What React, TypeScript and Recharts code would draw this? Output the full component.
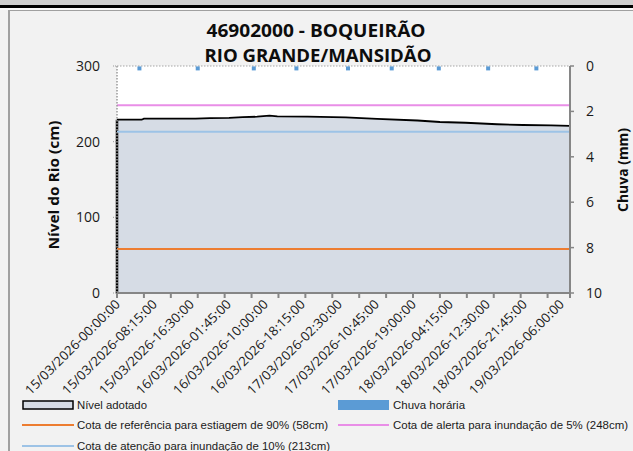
import React from "react";
import {
  ComposedChart,
  Area,
  Scatter,
  XAxis,
  YAxis,
  CartesianGrid,
  ReferenceLine,
} from "recharts";

// ---- data ----
const TITLE_LINE_1 = "46902000 - BOQUEIRÃO";
const TITLE_LINE_2 = "RIO GRANDE/MANSIDÃO";

// index of 15-minute record (category position) and adopted level (cm)
const levelIndex = [0, 22, 24, 50, 70, 83, 100, 112, 125, 136, 143, 170, 204, 232, 268, 288, 311, 339, 362, 387, 404];
const levelValues = [229, 229, 230.5, 230.5, 230.5, 231, 231.5, 232.5, 233, 234.5, 233.5, 233, 232, 230, 228, 226, 225, 223, 222, 221.5, 221];

// hourly rain (mm) at the records where it was reported
const rainIndex = [20, 72, 122, 160, 206, 245, 287, 331, 374];
const rainValues = [0.15, 0.15, 0.15, 0.15, 0.15, 0.15, 0.15, 0.15, 0.15];

const xLabelPositions = [0, 33, 66, 99, 132, 165, 198, 231, 264, 297, 330, 363, 396];
const xLabels = [
  "15/03/2026-00:00:00",
  "15/03/2026-08:15:00",
  "15/03/2026-16:30:00",
  "16/03/2026-01:45:00",
  "16/03/2026-10:00:00",
  "16/03/2026-18:15:00",
  "17/03/2026-02:30:00",
  "17/03/2026-10:45:00",
  "17/03/2026-19:00:00",
  "18/03/2026-04:15:00",
  "18/03/2026-12:30:00",
  "18/03/2026-21:45:00",
  "19/03/2026-06:00:00",
];
const xMarkPositions = [0, 24, 48, 72, 96, 120, 144, 168, 192, 216, 240, 264, 288, 312, 336, 360, 384, 404];
const X_MAX = 404;

const levelTicks = [0, 100, 200, 300];
const rainTicks = [0, 2, 4, 6, 8, 10];

const COTA_ESTIAGEM = 58;
const COTA_ATENCAO = 213;
const COTA_ALERTA = 248;

const legendLabels = {
  nivel: "Nível adotado",
  chuva: "Chuva horária",
  estiagem: "Cota de referência para estiagem de 90% (58cm)",
  alerta: "Cota de alerta para inundação de 5% (248cm)",
  atencao: "Cota de atenção para inundação de 10% (213cm)",
};

// build tables
const levelData = levelIndex.map((i, k) => ({ idx: i, nivel: levelValues[k] }));
const rainData = rainIndex.map((i, k) => ({ idx: i, chuva: rainValues[k] }));

const allXTicks = Array.from(new Set([...xLabelPositions, ...xMarkPositions])).sort((a, b) => a - b);

const FONT = "'Open Sans', 'Liberation Sans', sans-serif";
const LEGEND_FONT = "'Liberation Sans', Arial, sans-serif";

const XTick = (props: any) => {
  const { x, y, payload } = props;
  const v = payload.value;
  const li = xLabelPositions.indexOf(v);
  const isMark = xMarkPositions.includes(v);
  const ax = x + 4;
  const ay = y + 12;
  return (
    <g>
      {isMark && <line x1={x} y1={y} x2={x} y2={y + 5} stroke="#868686" strokeWidth={2} />}
      {li >= 0 && (
        <text
          x={ax}
          y={ay}
          transform={`rotate(-45, ${ax}, ${ay})`}
          textAnchor="end"
          fontSize={13}
          fontFamily={FONT}
          fill="#1a1a1a"
          textLength={128}
          lengthAdjust="spacingAndGlyphs"
        >
          {xLabels[li]}
        </text>
      )}
    </g>
  );
};

// hourly rain bar: hangs from the top (0 mm) down to its value on the reversed axis
const RainBar = (props: any) => {
  const { cx, cy } = props;
  if (cx == null || cy == null) return null;
  const h = 4;
  return <rect x={cx - 2} y={cy - h + 1} width={4} height={h} fill="#5b9bd5" />;
};

export default function App() {
  return (
    <div
      style={{
        position: "absolute",
        left: 0,
        top: 0,
        width: 633,
        height: 451,
        background: "#f2f2f2",
        overflow: "hidden",
      }}
    >
      <div style={{ position: "absolute", left: 0, top: 0, width: 633, height: 5, background: "#cfcfcf" }} />
      <div style={{ position: "absolute", left: 0, top: 5, width: 633, height: 2.5, background: "#000" }} />
      <div style={{ position: "absolute", left: 0, top: 7.5, width: 633, height: 2, background: "#fafafa" }} />
      <div
        style={{
          position: "absolute",
          left: 8,
          top: 9.5,
          width: 700,
          height: 500,
          borderLeft: "2px solid #a0a0a0",
          borderTop: "1.5px solid #a0a0a0",
        }}
      />
      <div style={{ position: "absolute", left: 0, top: 0 }}>
        <ComposedChart
          width={633}
          height={451}
          margin={{ top: 66, right: 0, bottom: 0, left: 0 }}
        >
          <CartesianGrid horizontal={false} vertical={false} fill="#ffffff" />
          <XAxis
            dataKey="idx"
            type="number"
            domain={[0, X_MAX]}
            ticks={allXTicks}
            interval={0}
            tick={<XTick />}
            tickLine={false}
            tickSize={0}
            tickMargin={0}
            height={158}
            axisLine={{ stroke: "#868686", strokeWidth: 2 }}
          />
          <YAxis
            yAxisId="left"
            domain={[0, 300]}
            ticks={levelTicks}
            width={117}
            tickSize={4}
            tickMargin={13}
            tickLine={{ stroke: "#9a9a9a", strokeDasharray: "1 1" }}
            axisLine={{ stroke: "#9a9a9a", strokeWidth: 1.5, strokeDasharray: "1.5 1.5" }}
            tick={{ fontSize: 14, fontFamily: FONT, fill: "#1a1a1a" }}
          />
          <YAxis
            yAxisId="right"
            orientation="right"
            reversed
            domain={[0, 10]}
            ticks={rainTicks}
            width={63}
            tickSize={4}
            tickMargin={12}
            tickLine={{ stroke: "#868686", strokeWidth: 1.5 }}
            axisLine={{ stroke: "#868686", strokeWidth: 2 }}
            tick={{ fontSize: 14, fontFamily: FONT, fill: "#1a1a1a", textAnchor: "start" }}
          />
          <ReferenceLine
            yAxisId="left"
            y={300}
            stroke="#a6a6a6"
            strokeDasharray="1.5 1.5"
            strokeWidth={1.2}
          />
          <Area
            data={levelData}
            yAxisId="left"
            dataKey="nivel"
            type="linear"
            fill="#d6dce5"
            fillOpacity={1}
            stroke="#000"
            strokeWidth={1.8}
            isAnimationActive={false}
            dot={false}
            activeDot={false}
          />
          <ReferenceLine
            yAxisId="left"
            segment={[
              { x: levelIndex[0], y: 0 },
              { x: levelIndex[0], y: levelValues[0] },
            ]}
            stroke="#000"
            strokeWidth={2.5}
          />
          <ReferenceLine yAxisId="left" y={COTA_ESTIAGEM} stroke="#ed7d31" strokeWidth={2} />
          <ReferenceLine yAxisId="left" y={COTA_ATENCAO} stroke="#9dc3e6" strokeWidth={2} />
          <ReferenceLine yAxisId="left" y={COTA_ALERTA} stroke="#e98ee7" strokeWidth={2} />
          <Scatter
            data={rainData}
            yAxisId="right"
            dataKey="chuva"
            fill="#5b9bd5"
            shape={<RainBar />}
            isAnimationActive={false}
          />
        </ComposedChart>
      </div>
      <svg
        width={633}
        height={451}
        style={{ position: "absolute", left: 0, top: 0, pointerEvents: "none" }}
      >
        <text
          x={316}
          y={37}
          textAnchor="middle"
          fontFamily={FONT}
          fontWeight={700}
          fontSize={18}
          fill="#0d0d0d"
          textLength={219}
          lengthAdjust="spacingAndGlyphs"
        >
          {TITLE_LINE_1}
        </text>
        <text
          x={318}
          y={62}
          textAnchor="middle"
          fontFamily={FONT}
          fontWeight={700}
          fontSize={18}
          fill="#0d0d0d"
          textLength={227}
          lengthAdjust="spacingAndGlyphs"
        >
          {TITLE_LINE_2}
        </text>
        <text
          x={59}
          y={185}
          transform="rotate(-90, 59, 185)"
          textAnchor="middle"
          fontFamily={FONT}
          fontWeight={700}
          fontSize={14}
          fill="#0d0d0d"
          textLength={129}
          lengthAdjust="spacingAndGlyphs"
        >
          Nível do Rio  (cm)
        </text>
        <text
          x={628}
          y={170}
          transform="rotate(-90, 628, 170)"
          textAnchor="middle"
          fontFamily={FONT}
          fontWeight={700}
          fontSize={14}
          fill="#0d0d0d"
          textLength={84}
          lengthAdjust="spacingAndGlyphs"
        >
          Chuva (mm)
        </text>

        {/* legend */}
        <rect x={23} y={401} width={50} height={8} fill="#d6dce5" stroke="#000" strokeWidth={1.5} />
        <text x={77} y={409} fontFamily={LEGEND_FONT} fontSize={11} fill="#1a1a1a" textLength={70} lengthAdjust="spacingAndGlyphs">
          {legendLabels.nivel}
        </text>
        <rect x={338} y={400} width={51} height={10} fill="#5b9bd5" />
        <text x={393} y={409} fontFamily={LEGEND_FONT} fontSize={11} fill="#1a1a1a" textLength={72} lengthAdjust="spacingAndGlyphs">
          {legendLabels.chuva}
        </text>
        <line x1={22} y1={425} x2={74} y2={425} stroke="#ed7d31" strokeWidth={2} />
        <text x={77} y={429} fontFamily={LEGEND_FONT} fontSize={11} fill="#1a1a1a" textLength={251} lengthAdjust="spacingAndGlyphs">
          {legendLabels.estiagem}
        </text>
        <line x1={338} y1={425} x2={389} y2={425} stroke="#e98ee7" strokeWidth={2} />
        <text x={393} y={429} fontFamily={LEGEND_FONT} fontSize={11} fill="#1a1a1a" textLength={235} lengthAdjust="spacingAndGlyphs">
          {legendLabels.alerta}
        </text>
        <line x1={22} y1={446} x2={74} y2={446} stroke="#9dc3e6" strokeWidth={2} />
        <text x={77} y={450} fontFamily={LEGEND_FONT} fontSize={11} fill="#1a1a1a" textLength={253} lengthAdjust="spacingAndGlyphs">
          {legendLabels.atencao}
        </text>
      </svg>
    </div>
  );
}
